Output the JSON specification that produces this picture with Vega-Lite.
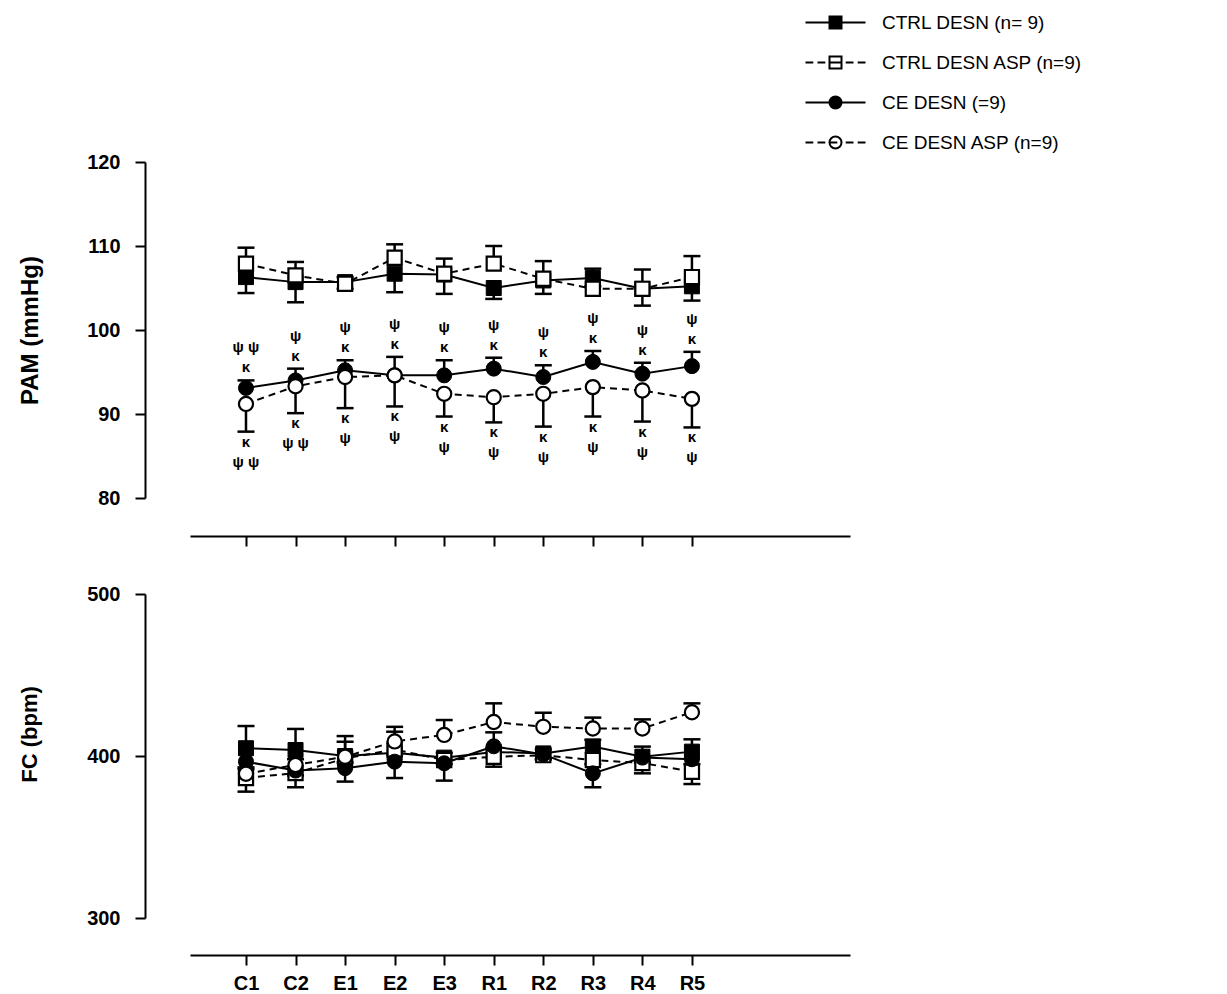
{
  "$schema": "https://vega.github.io/schema/vega-lite/v6.json",
  "padding": {"left": 18, "top": 13, "right": 5, "bottom": 5},
  "config": {
    "view": {"stroke": null},
    "font": "Liberation Sans",
    "concat": {"spacing": 37},
    "axis": {"domainColor": "black", "domainWidth": 2, "tickColor": "black", "tickWidth": 2, "tickSize": 10, "labelFont": "Liberation Sans", "labelFontWeight": "bold", "labelFontSize": 20, "labelColor": "black", "titleFont": "Liberation Sans", "titleFontWeight": "bold", "titleFontSize": 22, "titleColor": "black", "grid": false},
    "legend": {"labelFont": "Liberation Sans", "labelFontSize": 19, "labelColor": "black", "labelLimit": 0, "symbolSize": 144, "symbolStrokeWidth": 2, "symbolStrokeColor": "black", "labelOffset": 37, "rowPadding": 19}
  },
  "data": {"values": [
    {"panel":"PAM","time":"C1","idx":1,"group":"CTRL DESN (n= 9)","mean":106.3,"err":104.4,"note":null},
    {"panel":"PAM","time":"C2","idx":2,"group":"CTRL DESN (n= 9)","mean":105.7,"err":103.3,"note":null},
    {"panel":"PAM","time":"E1","idx":3,"group":"CTRL DESN (n= 9)","mean":105.7,"err":104.9,"note":null},
    {"panel":"PAM","time":"E2","idx":4,"group":"CTRL DESN (n= 9)","mean":106.7,"err":104.5,"note":null},
    {"panel":"PAM","time":"E3","idx":5,"group":"CTRL DESN (n= 9)","mean":106.6,"err":104.3,"note":null},
    {"panel":"PAM","time":"R1","idx":6,"group":"CTRL DESN (n= 9)","mean":105.0,"err":103.7,"note":null},
    {"panel":"PAM","time":"R2","idx":7,"group":"CTRL DESN (n= 9)","mean":105.9,"err":104.3,"note":null},
    {"panel":"PAM","time":"R3","idx":8,"group":"CTRL DESN (n= 9)","mean":106.2,"err":105.2,"note":null},
    {"panel":"PAM","time":"R4","idx":9,"group":"CTRL DESN (n= 9)","mean":104.9,"err":102.9,"note":null},
    {"panel":"PAM","time":"R5","idx":10,"group":"CTRL DESN (n= 9)","mean":105.2,"err":103.5,"note":null},
    {"panel":"PAM","time":"C1","idx":1,"group":"CTRL DESN ASP (n=9)","mean":107.9,"err":109.8,"note":null},
    {"panel":"PAM","time":"C2","idx":2,"group":"CTRL DESN ASP (n=9)","mean":106.5,"err":108.1,"note":null},
    {"panel":"PAM","time":"E1","idx":3,"group":"CTRL DESN ASP (n=9)","mean":105.5,"err":106.3,"note":null},
    {"panel":"PAM","time":"E2","idx":4,"group":"CTRL DESN ASP (n=9)","mean":108.6,"err":110.2,"note":null},
    {"panel":"PAM","time":"E3","idx":5,"group":"CTRL DESN ASP (n=9)","mean":106.7,"err":108.5,"note":null},
    {"panel":"PAM","time":"R1","idx":6,"group":"CTRL DESN ASP (n=9)","mean":107.9,"err":110.0,"note":null},
    {"panel":"PAM","time":"R2","idx":7,"group":"CTRL DESN ASP (n=9)","mean":106.1,"err":108.2,"note":null},
    {"panel":"PAM","time":"R3","idx":8,"group":"CTRL DESN ASP (n=9)","mean":104.9,"err":107.3,"note":null},
    {"panel":"PAM","time":"R4","idx":9,"group":"CTRL DESN ASP (n=9)","mean":104.9,"err":107.2,"note":null},
    {"panel":"PAM","time":"R5","idx":10,"group":"CTRL DESN ASP (n=9)","mean":106.3,"err":108.8,"note":null},
    {"panel":"PAM","time":"C1","idx":1,"group":"CE DESN (=9)","mean":93.1,"err":94.0,"note":"ψ ψ\nκ"},
    {"panel":"PAM","time":"C2","idx":2,"group":"CE DESN (=9)","mean":94.0,"err":95.4,"note":"ψ\nκ"},
    {"panel":"PAM","time":"E1","idx":3,"group":"CE DESN (=9)","mean":95.2,"err":96.4,"note":"ψ\nκ"},
    {"panel":"PAM","time":"E2","idx":4,"group":"CE DESN (=9)","mean":94.6,"err":96.8,"note":"ψ\nκ"},
    {"panel":"PAM","time":"E3","idx":5,"group":"CE DESN (=9)","mean":94.6,"err":96.4,"note":"ψ\nκ"},
    {"panel":"PAM","time":"R1","idx":6,"group":"CE DESN (=9)","mean":95.4,"err":96.7,"note":"ψ\nκ"},
    {"panel":"PAM","time":"R2","idx":7,"group":"CE DESN (=9)","mean":94.4,"err":95.8,"note":"ψ\nκ"},
    {"panel":"PAM","time":"R3","idx":8,"group":"CE DESN (=9)","mean":96.2,"err":97.5,"note":"ψ\nκ"},
    {"panel":"PAM","time":"R4","idx":9,"group":"CE DESN (=9)","mean":94.8,"err":96.1,"note":"ψ\nκ"},
    {"panel":"PAM","time":"R5","idx":10,"group":"CE DESN (=9)","mean":95.7,"err":97.4,"note":"ψ\nκ"},
    {"panel":"PAM","time":"C1","idx":1,"group":"CE  DESN ASP (n=9)","mean":91.2,"err":87.9,"note":"κ\nψ ψ"},
    {"panel":"PAM","time":"C2","idx":2,"group":"CE  DESN ASP (n=9)","mean":93.3,"err":90.1,"note":"κ\nψ ψ"},
    {"panel":"PAM","time":"E1","idx":3,"group":"CE  DESN ASP (n=9)","mean":94.4,"err":90.7,"note":"κ\nψ"},
    {"panel":"PAM","time":"E2","idx":4,"group":"CE  DESN ASP (n=9)","mean":94.6,"err":90.9,"note":"κ\nψ"},
    {"panel":"PAM","time":"E3","idx":5,"group":"CE  DESN ASP (n=9)","mean":92.4,"err":89.7,"note":"κ\nψ"},
    {"panel":"PAM","time":"R1","idx":6,"group":"CE  DESN ASP (n=9)","mean":92.0,"err":89.0,"note":"κ\nψ"},
    {"panel":"PAM","time":"R2","idx":7,"group":"CE  DESN ASP (n=9)","mean":92.4,"err":88.5,"note":"κ\nψ"},
    {"panel":"PAM","time":"R3","idx":8,"group":"CE  DESN ASP (n=9)","mean":93.2,"err":89.7,"note":"κ\nψ"},
    {"panel":"PAM","time":"R4","idx":9,"group":"CE  DESN ASP (n=9)","mean":92.8,"err":89.1,"note":"κ\nψ"},
    {"panel":"PAM","time":"R5","idx":10,"group":"CE  DESN ASP (n=9)","mean":91.8,"err":88.4,"note":"κ\nψ"},
    {"panel":"FC","time":"C1","idx":1,"group":"CTRL DESN (n= 9)","mean":404.8,"err":418.5,"note":null},
    {"panel":"FC","time":"C2","idx":2,"group":"CTRL DESN (n= 9)","mean":403.7,"err":416.7,"note":null},
    {"panel":"FC","time":"E1","idx":3,"group":"CTRL DESN (n= 9)","mean":400.0,"err":412.3,"note":null},
    {"panel":"FC","time":"E2","idx":4,"group":"CTRL DESN (n= 9)","mean":402.0,"err":415.0,"note":null},
    {"panel":"FC","time":"E3","idx":5,"group":"CTRL DESN (n= 9)","mean":399.0,"err":402.0,"note":null},
    {"panel":"FC","time":"R1","idx":6,"group":"CTRL DESN (n= 9)","mean":402.5,"err":405.0,"note":null},
    {"panel":"FC","time":"R2","idx":7,"group":"CTRL DESN (n= 9)","mean":401.6,"err":404.0,"note":null},
    {"panel":"FC","time":"R3","idx":8,"group":"CTRL DESN (n= 9)","mean":405.8,"err":410.0,"note":null},
    {"panel":"FC","time":"R4","idx":9,"group":"CTRL DESN (n= 9)","mean":399.6,"err":405.8,"note":null},
    {"panel":"FC","time":"R5","idx":10,"group":"CTRL DESN (n= 9)","mean":402.7,"err":410.3,"note":null},
    {"panel":"FC","time":"C1","idx":1,"group":"CTRL DESN ASP (n=9)","mean":386.4,"err":378.0,"note":null},
    {"panel":"FC","time":"C2","idx":2,"group":"CTRL DESN ASP (n=9)","mean":389.5,"err":380.7,"note":null},
    {"panel":"FC","time":"E1","idx":3,"group":"CTRL DESN ASP (n=9)","mean":398.5,"err":396.0,"note":null},
    {"panel":"FC","time":"E2","idx":4,"group":"CTRL DESN ASP (n=9)","mean":404.0,"err":401.0,"note":null},
    {"panel":"FC","time":"E3","idx":5,"group":"CTRL DESN ASP (n=9)","mean":397.5,"err":395.0,"note":null},
    {"panel":"FC","time":"R1","idx":6,"group":"CTRL DESN ASP (n=9)","mean":399.5,"err":393.4,"note":null},
    {"panel":"FC","time":"R2","idx":7,"group":"CTRL DESN ASP (n=9)","mean":400.5,"err":398.0,"note":null},
    {"panel":"FC","time":"R3","idx":8,"group":"CTRL DESN ASP (n=9)","mean":397.5,"err":395.0,"note":null},
    {"panel":"FC","time":"R4","idx":9,"group":"CTRL DESN ASP (n=9)","mean":395.7,"err":389.3,"note":null},
    {"panel":"FC","time":"R5","idx":10,"group":"CTRL DESN ASP (n=9)","mean":390.3,"err":382.7,"note":null},
    {"panel":"FC","time":"C1","idx":1,"group":"CE DESN (=9)","mean":396.5,"err":393.0,"note":null},
    {"panel":"FC","time":"C2","idx":2,"group":"CE DESN (=9)","mean":391.0,"err":388.0,"note":null},
    {"panel":"FC","time":"E1","idx":3,"group":"CE DESN (=9)","mean":392.5,"err":384.2,"note":null},
    {"panel":"FC","time":"E2","idx":4,"group":"CE DESN (=9)","mean":396.5,"err":386.4,"note":null},
    {"panel":"FC","time":"E3","idx":5,"group":"CE DESN (=9)","mean":395.5,"err":384.8,"note":null},
    {"panel":"FC","time":"R1","idx":6,"group":"CE DESN (=9)","mean":406.0,"err":414.6,"note":null},
    {"panel":"FC","time":"R2","idx":7,"group":"CE DESN (=9)","mean":401.0,"err":398.0,"note":null},
    {"panel":"FC","time":"R3","idx":8,"group":"CE DESN (=9)","mean":389.3,"err":380.7,"note":null},
    {"panel":"FC","time":"R4","idx":9,"group":"CE DESN (=9)","mean":399.0,"err":396.0,"note":null},
    {"panel":"FC","time":"R5","idx":10,"group":"CE DESN (=9)","mean":398.0,"err":395.0,"note":null},
    {"panel":"FC","time":"C1","idx":1,"group":"CE  DESN ASP (n=9)","mean":389.0,"err":392.0,"note":null},
    {"panel":"FC","time":"C2","idx":2,"group":"CE  DESN ASP (n=9)","mean":394.5,"err":398.0,"note":null},
    {"panel":"FC","time":"E1","idx":3,"group":"CE  DESN ASP (n=9)","mean":399.5,"err":408.8,"note":null},
    {"panel":"FC","time":"E2","idx":4,"group":"CE  DESN ASP (n=9)","mean":409.0,"err":418.0,"note":null},
    {"panel":"FC","time":"E3","idx":5,"group":"CE  DESN ASP (n=9)","mean":413.0,"err":422.2,"note":null},
    {"panel":"FC","time":"R1","idx":6,"group":"CE  DESN ASP (n=9)","mean":421.0,"err":432.5,"note":null},
    {"panel":"FC","time":"R2","idx":7,"group":"CE  DESN ASP (n=9)","mean":418.0,"err":426.7,"note":null},
    {"panel":"FC","time":"R3","idx":8,"group":"CE  DESN ASP (n=9)","mean":417.0,"err":423.7,"note":null},
    {"panel":"FC","time":"R4","idx":9,"group":"CE  DESN ASP (n=9)","mean":417.0,"err":422.6,"note":null},
    {"panel":"FC","time":"R5","idx":10,"group":"CE  DESN ASP (n=9)","mean":427.0,"err":432.5,"note":null}
  ]},
  "vconcat": [
    {
      "width": 660, "height": 336,
      "transform": [{"filter": "datum.panel === 'PAM'"}],
      "encoding": {
        "x": {"field": "idx", "type": "quantitative", "scale": {"domain": [-0.13, 13.19], "nice": false, "zero": false}, "axis": {"values": [1,2,3,4,5,6,7,8,9,10], "offset": 38, "title": null, "labels": false}},
        "y": {"field": "mean", "type": "quantitative", "title": "PAM (mmHg)", "scale": {"domain": [80, 120], "nice": false, "zero": false}, "axis": {"values": [80,90,100,110,120], "offset": 45, "labelPadding": 15, "titlePadding": 44, "titleFontSize": 24}}
      },
      "layer": [
        {"transform": [{"filter": {"field": "group", "oneOf": ["CTRL DESN (n= 9)", "CE DESN (=9)"]}}], "mark": {"type": "line", "color": "black", "strokeWidth": 2}, "encoding": {"detail": {"field": "group"}}},
        {"transform": [{"filter": {"field": "group", "oneOf": ["CTRL DESN ASP (n=9)", "CE  DESN ASP (n=9)"]}}], "mark": {"type": "line", "color": "black", "strokeWidth": 2, "strokeDash": [7, 5]}, "encoding": {"detail": {"field": "group"}}},
        {"mark": {"type": "rule", "color": "black", "strokeWidth": 2.5}, "encoding": {"y2": {"field": "err"}}},
        {"mark": {"type": "point", "shape": "stroke", "size": 289, "filled": false, "stroke": "black", "strokeWidth": 2.5, "opacity": 1},
         "encoding": {"y": {"field": "err", "type": "quantitative", "title": "PAM (mmHg)", "scale": {"domain": [80, 120], "nice": false, "zero": false}, "axis": {"values": [80,90,100,110,120], "offset": 45, "labelPadding": 15, "titlePadding": 44, "titleFontSize": 24}}}},
        {"transform": [{"filter": {"field": "group", "equal": "CTRL DESN (n= 9)"}}], "mark": {"type": "point", "shape": "square", "size": 225, "filled": true, "fill": "black", "stroke": "black", "strokeWidth": 1, "opacity": 1}},
        {"transform": [{"filter": {"field": "group", "equal": "CTRL DESN ASP (n=9)"}}], "mark": {"type": "point", "shape": "square", "size": 200, "filled": true, "fill": "white", "stroke": "black", "strokeWidth": 2.2, "opacity": 1}},
        {"transform": [{"filter": {"field": "group", "equal": "CE DESN (=9)"}}], "mark": {"type": "point", "shape": "circle", "size": 225, "filled": true, "fill": "black", "stroke": "black", "strokeWidth": 1, "opacity": 1}},
        {"transform": [{"filter": {"field": "group", "equal": "CE  DESN ASP (n=9)"}}], "mark": {"type": "point", "shape": "circle", "size": 200, "filled": true, "fill": "white", "stroke": "black", "strokeWidth": 2.2, "opacity": 1}},
        {"transform": [{"filter": {"field": "group", "equal": "CE DESN (=9)"}}], "mark": {"type": "text", "baseline": "bottom", "dy": -25, "lineBreak": "\n", "lineHeight": 20, "font": "Liberation Sans", "fontWeight": "bold", "fontSize": 15, "color": "black"},
         "encoding": {"text": {"field": "note"}, "y": {"field": "err", "type": "quantitative", "title": "PAM (mmHg)", "scale": {"domain": [80, 120], "nice": false, "zero": false}, "axis": {"values": [80,90,100,110,120], "offset": 45, "labelPadding": 15, "titlePadding": 44, "titleFontSize": 24}}}},
        {"transform": [{"filter": {"field": "group", "equal": "CE  DESN ASP (n=9)"}}], "mark": {"type": "text", "baseline": "top", "dy": 3, "lineBreak": "\n", "lineHeight": 20, "font": "Liberation Sans", "fontWeight": "bold", "fontSize": 15, "color": "black"},
         "encoding": {"text": {"field": "note"}, "y": {"field": "err", "type": "quantitative", "title": "PAM (mmHg)", "scale": {"domain": [80, 120], "nice": false, "zero": false}, "axis": {"values": [80,90,100,110,120], "offset": 45, "labelPadding": 15, "titlePadding": 44, "titleFontSize": 24}}}},
        {"transform": [{"filter": "false"}], "mark": {"type": "point", "filled": true, "strokeWidth": 2, "size": 144, "opacity": 1},
         "encoding": {
           "shape": {"field": "group", "type": "nominal", "scale": {"domain": ["CTRL DESN (n= 9)", "CTRL DESN ASP (n=9)", "CE DESN (=9)", "CE  DESN ASP (n=9)"], "range": ["M-5,0H-1M1,0H5M-1,-1H1V1H-1Z", "M-5,0H-3.7M-3,0H-1.7M1.7,0H3M3.7,0H5M-1,-1H1V1H-1ZM-1,0H1", "M-5,0H-1M1,0H5M-1,0A1,1,0,1,0,1,0A1,1,0,1,0,-1,0Z", "M-5,0H-3.7M-3,0H-1.7M1.7,0H3M3.7,0H5M-1,0A1,1,0,1,0,1,0A1,1,0,1,0,-1,0ZM-1,0H0.3"]}, "legend": {"title": null, "orient": "none", "legendX": 636, "legendY": -149}},
           "fill": {"field": "group", "type": "nominal", "scale": {"domain": ["CTRL DESN (n= 9)", "CTRL DESN ASP (n=9)", "CE DESN (=9)", "CE  DESN ASP (n=9)"], "range": ["black", "white", "black", "white"]}, "legend": {"title": null, "orient": "none", "legendX": 636, "legendY": -149}},
           "stroke": {"field": "group", "type": "nominal", "scale": {"domain": ["CTRL DESN (n= 9)", "CTRL DESN ASP (n=9)", "CE DESN (=9)", "CE  DESN ASP (n=9)"], "range": ["black", "black", "black", "black"]}, "legend": {"title": null, "orient": "none", "legendX": 636, "legendY": -149}}
         }}
      ]
    },
    {
      "width": 660, "height": 324,
      "transform": [{"filter": "datum.panel === 'FC'"}],
      "encoding": {
        "x": {"field": "idx", "type": "quantitative", "scale": {"domain": [-0.13, 13.19], "nice": false, "zero": false}, "axis": {"values": [1,2,3,4,5,6,7,8,9,10], "offset": 37, "title": null, "labelPadding": 8, "labelExpr": "['C1','C2','E1','E2','E3','R1','R2','R3','R4','R5'][datum.value - 1]"}},
        "y": {"field": "mean", "type": "quantitative", "title": "FC (bpm)", "scale": {"domain": [300, 500], "nice": false, "zero": false}, "axis": {"values": [300,400,500], "offset": 45, "labelPadding": 15, "titlePadding": 45, "titleY": 140}}
      },
      "layer": [
        {"transform": [{"filter": {"field": "group", "oneOf": ["CTRL DESN (n= 9)", "CE DESN (=9)"]}}], "mark": {"type": "line", "color": "black", "strokeWidth": 2}, "encoding": {"detail": {"field": "group"}}},
        {"transform": [{"filter": {"field": "group", "oneOf": ["CTRL DESN ASP (n=9)", "CE  DESN ASP (n=9)"]}}], "mark": {"type": "line", "color": "black", "strokeWidth": 2, "strokeDash": [7, 5]}, "encoding": {"detail": {"field": "group"}}},
        {"mark": {"type": "rule", "color": "black", "strokeWidth": 2.5}, "encoding": {"y2": {"field": "err"}}},
        {"mark": {"type": "point", "shape": "stroke", "size": 289, "filled": false, "stroke": "black", "strokeWidth": 2.5, "opacity": 1},
         "encoding": {"y": {"field": "err", "type": "quantitative", "title": "FC (bpm)", "scale": {"domain": [300, 500], "nice": false, "zero": false}, "axis": {"values": [300,400,500], "offset": 45, "labelPadding": 15, "titlePadding": 45, "titleY": 140}}}},
        {"transform": [{"filter": {"field": "group", "equal": "CTRL DESN (n= 9)"}}], "mark": {"type": "point", "shape": "square", "size": 225, "filled": true, "fill": "black", "stroke": "black", "strokeWidth": 1, "opacity": 1}},
        {"transform": [{"filter": {"field": "group", "equal": "CTRL DESN ASP (n=9)"}}], "mark": {"type": "point", "shape": "square", "size": 200, "filled": true, "fill": "white", "stroke": "black", "strokeWidth": 2.2, "opacity": 1}},
        {"transform": [{"filter": {"field": "group", "equal": "CE DESN (=9)"}}], "mark": {"type": "point", "shape": "circle", "size": 225, "filled": true, "fill": "black", "stroke": "black", "strokeWidth": 1, "opacity": 1}},
        {"transform": [{"filter": {"field": "group", "equal": "CE  DESN ASP (n=9)"}}], "mark": {"type": "point", "shape": "circle", "size": 200, "filled": true, "fill": "white", "stroke": "black", "strokeWidth": 2.2, "opacity": 1}}
      ]
    }
  ]
}
